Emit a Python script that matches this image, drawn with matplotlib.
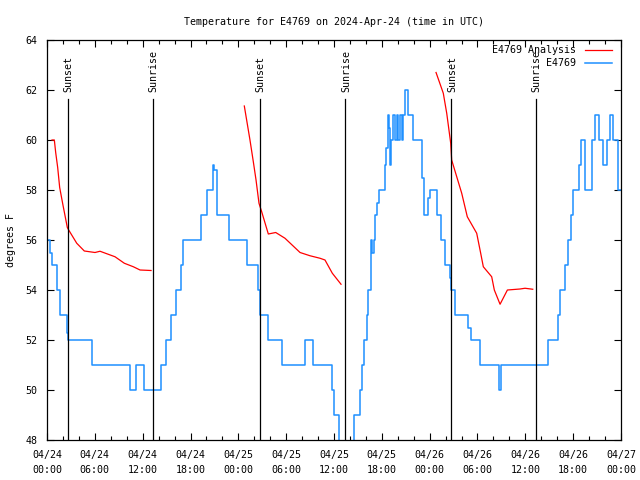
import pandas as pd
import matplotlib.pyplot as plt
from matplotlib.ticker import MultipleLocator

#observed temperatures (hours after 2024-04-24 00:00 UTC, degrees F)
obs_hours = [0.16, 0.40, 0.59, 1.25, 1.63, 2.47, 2.63, 5.68, 10.45, 11.20, 12.20,
             14.26, 14.93, 15.52, 16.18, 16.77, 17.10, 19.28, 20.11, 20.86, 20.95,
             21.36, 22.87, 25.13, 26.43, 26.76, 27.76, 29.44, 32.36, 33.37, 35.71,
             35.96, 36.57, 38.55, 39.26, 39.47, 39.80, 40.14, 40.30, 40.60, 40.77,
             40.96, 41.20, 41.45, 41.62, 42.40, 42.50, 42.74, 42.85, 43.00, 43.20,
             43.40, 43.60, 43.86, 44.07, 44.28, 44.49, 44.69, 44.91, 45.24, 45.91,
             47.08, 47.25, 47.75, 48.00, 48.92, 49.46, 49.96, 50.59, 50.68, 51.22,
             52.81, 53.15, 54.31, 56.73, 56.98, 62.85, 64.10, 64.35, 64.94, 65.35,
             65.69, 66.02, 66.70, 67.02, 67.52, 68.36, 68.78, 69.18, 69.78, 70.28,
             70.62, 70.96, 71.63, 72.00]
obs_temps = [56, 55.5, 55, 54, 53, 52.3, 52, 51, 50, 51, 50,
             51, 52, 53, 54, 55, 56, 57, 58, 59, 58.8,
             57, 56, 55, 54, 53, 52, 51, 52, 51, 50,
             49, 47, 49, 50, 51, 52, 53, 54, 56, 55.5,
             56, 57, 57.5, 58, 59, 59.7, 61, 60.5, 59, 60,
             61, 60, 61, 60, 61, 60, 61, 62, 61, 60,
             58.5, 57, 57.7, 58, 57, 56, 55, 54.5, 54, 53,
             52.5, 52, 51, 50, 51, 52, 53, 54, 55, 56,
             57, 58, 59, 60, 58, 60, 61, 60, 59, 60,
             61, 60, 58, 58]

#analysis runs
ana1_hours = [0.63, 0.92, 1.09, 1.34, 1.59, 2.00, 2.55, 2.72, 3.73, 4.68, 6.02,
              6.65, 8.53, 9.70, 10.83, 11.67, 13.05]
ana1_temps = [60.0, 60.0, 59.5, 58.9, 58.1, 57.4, 56.5, 56.4, 55.87, 55.56, 55.5,
              55.55, 55.33, 55.07, 54.93, 54.8, 54.78]
ana2_hours = [24.75, 25.46, 25.88, 26.22, 26.59, 26.93, 27.76, 28.69, 29.85, 31.74,
              32.99, 34.24, 34.87, 35.79, 36.88]
ana2_temps = [61.36, 60.0, 59.13, 58.4, 57.47, 57.13, 56.24, 56.3, 56.07, 55.5,
              55.37, 55.27, 55.2, 54.67, 54.23]
ana3_hours = [48.8, 49.71, 50.14, 50.64, 50.76, 52.02, 52.72, 53.9, 54.4, 54.73,
              55.78, 56.11, 56.83, 57.75, 59.34, 59.96, 60.93]
ana3_temps = [62.7, 61.87, 61.07, 59.87, 59.2, 57.87, 56.93, 56.27, 55.47, 54.93,
              54.53, 54.0, 53.43, 54.0, 54.04, 54.07, 54.03]

#sun events
sun_hours = [2.63, 13.3, 26.7, 37.4, 50.7, 61.3]
sun_names = ['Sunset', 'Sunrise', 'Sunset', 'Sunrise', 'Sunset', 'Sunrise']

tick_times = pd.date_range('2024-04-24 00:00', periods=13, freq='6h')
tick_labels = [t.strftime('%m/%d\n%H:%M') for t in tick_times]

plt.rcParams['font.family'] = 'DejaVu Sans Mono'
plt.rcParams['font.size'] = 7.2

fig = plt.figure(figsize=(6.4, 4.8), dpi=100)
ax = fig.add_axes([47/640, 40/480, 574/640, 400/480])

red = '#ff0000'
blue = '#1e90ff'
for h, t in [(ana1_hours, ana1_temps), (ana2_hours, ana2_temps), (ana3_hours, ana3_temps)]:
    ax.plot(h, t, color=red, lw=0.9)
ax.plot(obs_hours, obs_temps, color=blue, lw=1.1, drawstyle='steps-post')

#sunrise / sunset markers
for h, name in zip(sun_hours, sun_names):
    ax.plot([h, h], [48, 61.64], color='black', lw=0.9)
    ax.text(h + 0.1, 61.9, name, rotation=90, ha='center', va='bottom')

ax.set_xlim(0, 72)
ax.set_ylim(48, 64)
ax.set_xticks(range(0, 73, 6))
ax.set_xticklabels(tick_labels, linespacing=1.6)
ax.xaxis.set_minor_locator(MultipleLocator(2))
ax.set_yticks(range(48, 65, 2))
ax.tick_params(which='both', direction='in', top=True, right=True, width=0.8)
ax.tick_params(which='major', length=5, pad=7)
ax.tick_params(which='minor', length=3)
for s in ax.spines.values():
    s.set_linewidth(0.9)

ax.set_ylabel('degrees F', labelpad=7)
ax.set_title('Temperature for E4769 on 2024-Apr-24 (time in UTC)', fontsize=7.2, pad=11)

#legend drawn gnuplot style (text right aligned, sample on the right)
ax.text(0.922, 0.975, 'E4769 Analysis', transform=ax.transAxes, ha='right', va='center')
ax.plot([0.937, 0.984], [0.975, 0.975], transform=ax.transAxes, color=red, lw=0.9, clip_on=False)
ax.text(0.922, 0.943, 'E4769', transform=ax.transAxes, ha='right', va='center')
ax.plot([0.937, 0.984], [0.943, 0.943], transform=ax.transAxes, color=blue, lw=1.1, clip_on=False)

plt.savefig('out.png')
